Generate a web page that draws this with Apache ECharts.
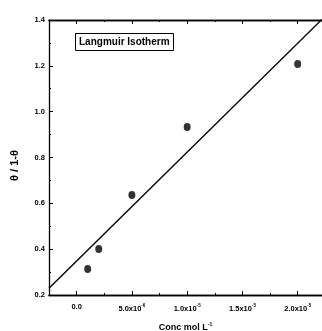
<!DOCTYPE html>
<html><head><meta charset="utf-8">
<script src="https://cdn.jsdelivr.net/npm/echarts@6/dist/echarts.min.js"></script>
<style>html,body{margin:0;padding:0;background:#fff}#c{width:322px;height:331px}</style>
</head><body><div id="c"></div>
<script>
var concX = [1e-6, 2e-6, 5e-6, 1e-5, 2e-5];
var thetaY = [0.313, 0.401, 0.636, 0.933, 1.208];
var fitX = [-2.5e-6, 2.25e-5];
var fitY = [0.229, 1.417];
var xMajor = [0, 5e-6, 1e-5, 1.5e-5, 2e-5];
var xMinor = [-2.5e-6, 2.5e-6, 7.5e-6, 1.25e-5, 1.75e-5];
var xLabels = ['0.0', '5.0x10{s|-6}', '1.0x10{s|-5}', '1.5x10{s|-5}', '2.0x10{s|-5}'];
var yTicks = ['0.2','0.4','0.6','0.8','1.0','1.2','1.4'];

var FONT = 'Liberation Sans, Arial, sans-serif';
var chart = echarts.init(document.getElementById('c'));
var xMin = -2.5e-6, xMax = 2.22e-5;
function xa(pos, ticks, len, labels, extra) {
  var o = {
    type: 'value', position: pos, min: xMin, max: xMax, gridIndex: 0,
    axisLine: {show: true, onZero: false, lineStyle: {color: '#000', width: 1.3}},
    axisTick: {show: true, inside: true, length: len, customValues: ticks, lineStyle: {color: '#000', width: 1}},
    axisLabel: labels ? {show: true, customValues: xMajor, margin: 8, fontSize: 7.5, fontWeight: 'bold', fontFamily: FONT, color: '#000',
      formatter: function (v) { var i = Math.round(v / 5e-6); return (i >= 0 && i < xLabels.length) ? xLabels[i] : ''; },
      rich: {s: {fontSize: 4.5, fontWeight: 'bold', fontFamily: FONT, color: '#000', padding: [0, 0, 6, 0]}}} : {show: false},
    splitLine: {show: false}
  };
  for (var k in extra) o[k] = extra[k];
  return o;
}
chart.setOption({
  animation: false,
  backgroundColor: '#fff',
  grid: {left: 49, right: 0, top: 20, bottom: 36, containLabel: false, outerBoundsMode: 'none'},
  title: {
    text: 'Langmuir Isotherm', left: 75, top: 33,
    borderColor: '#000', borderWidth: 1, padding: [4, 4, 4, 4],
    textStyle: {fontSize: 10, fontWeight: 'bold', fontFamily: FONT, color: '#000'}
  },
  xAxis: [
    xa('bottom', xMajor, 4, true, {name: 'Conc mol L{s|-1}', nameLocation: 'middle', nameGap: 27,
      nameTextStyle: {fontSize: 9, fontWeight: 'bold', fontFamily: FONT, color: '#000',
        rich: {s: {fontSize: 5, fontWeight: 'bold', fontFamily: FONT, color: '#000', padding: [0, 0, 7, 0]}}}}),
    xa('bottom', xMinor, 2, false, {}),
    xa('top', xMajor, 4, false, {}),
    xa('top', xMinor, 2, false, {})
  ],
  yAxis: {
    type: 'value', min: 0.2, max: 1.4, interval: 0.2,
    name: 'θ / 1-θ', nameLocation: 'middle', nameGap: 29,
    nameTextStyle: {fontSize: 11, fontWeight: 'bold', fontFamily: FONT, color: '#000', padding: [0, 0, 0, -16]},
    axisLine: {show: true, onZero: false, lineStyle: {color: '#000', width: 1.3}},
    axisTick: {show: true, inside: true, length: 4, lineStyle: {color: '#000', width: 1}},
    minorTick: {show: true, splitNumber: 2, length: 2, lineStyle: {color: '#000', width: 1}},
    axisLabel: {margin: 4, fontSize: 7.5, fontWeight: 'bold', fontFamily: FONT, color: '#000',
      formatter: function (v) { return yTicks[Math.round((v - 0.2) / 0.2)]; }},
    splitLine: {show: false}, minorSplitLine: {show: false}
  },
  series: [
    {type: 'line', xAxisIndex: 0, data: fitX.map(function (x, i) { return [x, fitY[i]]; }),
      symbol: 'none', lineStyle: {color: '#000', width: 1.4}, clip: true, z: 2},
    {type: 'scatter', xAxisIndex: 0, data: concX.map(function (x, i) { return [x, thetaY[i]]; }),
      symbol: 'circle', symbolSize: [7, 8], itemStyle: {color: '#000'}, z: 3}
  ]
});
</script></body></html>
